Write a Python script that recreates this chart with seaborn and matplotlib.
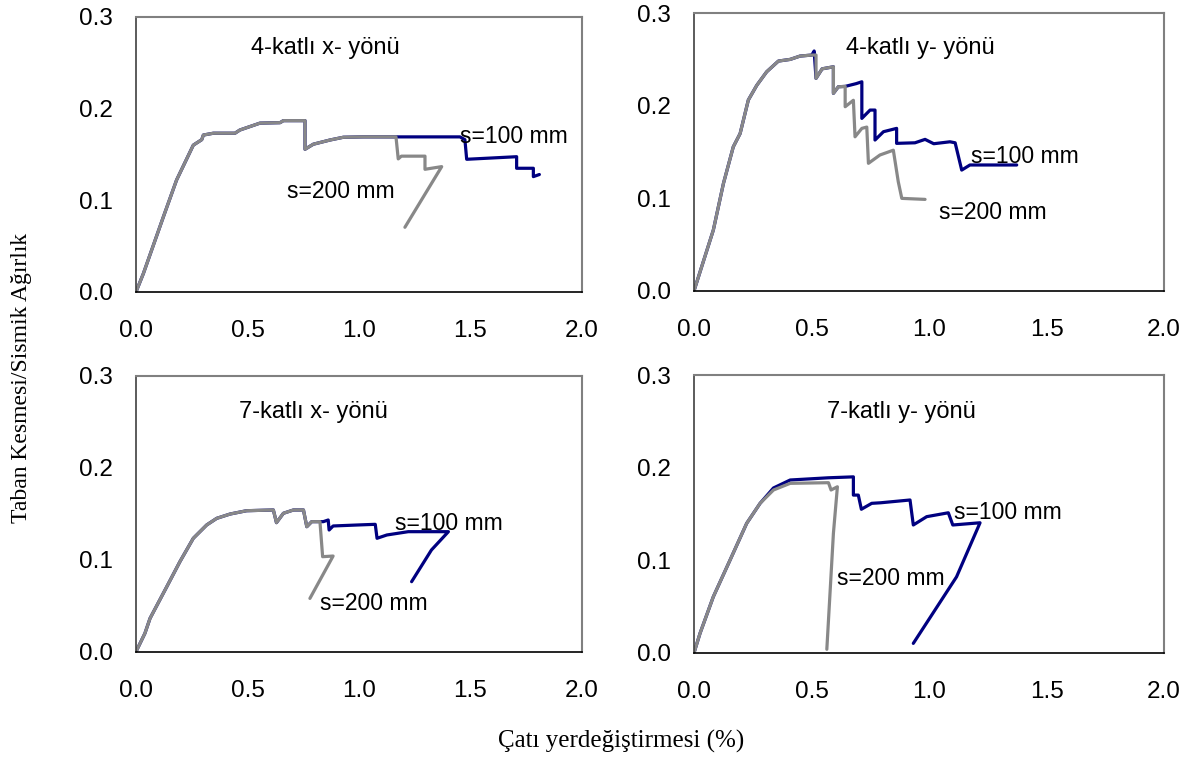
import numpy as np
import pandas as pd
import seaborn as sns
import matplotlib.pyplot as plt

# =========================
# Data
# =========================
# 4-katli x- yonu
tl_x100 = [0, 0.033, 0.123, 0.182, 0.257, 0.295, 0.302, 0.347, 0.444, 0.466, 0.556, 0.646, 0.661, 0.758,
           0.758, 0.795, 0.870, 0.930, 1.019, 1.166, 1.453, 1.475, 1.483, 1.707, 1.707, 1.782, 1.782, 1.809]
tl_y100 = [0, 0.020, 0.082, 0.122, 0.160, 0.166, 0.171, 0.173, 0.173, 0.1765, 0.184, 0.1845, 0.1867, 0.1867,
           0.1555, 0.161, 0.1656, 0.1686, 0.169, 0.169, 0.169, 0.166, 0.1446, 0.1474, 0.1348, 0.1348, 0.1257, 0.128]
tl_x200 = [0, 0.033, 0.123, 0.182, 0.257, 0.295, 0.302, 0.347, 0.444, 0.466, 0.556, 0.646, 0.661, 0.758,
           0.758, 0.795, 0.870, 0.930, 1.019, 1.166, 1.176, 1.190, 1.296, 1.296, 1.371, 1.206]
tl_y200 = [0, 0.020, 0.082, 0.122, 0.160, 0.166, 0.171, 0.173, 0.173, 0.1765, 0.184, 0.1845, 0.1867, 0.1867,
           0.1555, 0.161, 0.1656, 0.1686, 0.169, 0.169, 0.145, 0.148, 0.148, 0.1337, 0.1366, 0.0705]

# 4-katli y- yonu
tr_x100 = [0, 0.082, 0.125, 0.167, 0.196, 0.231, 0.267, 0.309, 0.359, 0.409, 0.451, 0.501, 0.511, 0.519,
           0.545, 0.593, 0.593, 0.614, 0.643, 0.690, 0.714, 0.714, 0.749, 0.770, 0.770, 0.806, 0.862,
           0.862, 0.940, 0.983, 1.020, 1.089, 1.111, 1.139, 1.174, 1.373]
tr_y100 = [0, 0.0656, 0.116, 0.1557, 0.170, 0.2063, 0.2222, 0.2368, 0.2484, 0.2502, 0.2538, 0.2549, 0.2593, 0.2297,
           0.2400, 0.2422, 0.2135, 0.2206, 0.2210, 0.2240, 0.226, 0.1864, 0.1954, 0.1954, 0.163, 0.172, 0.1756,
           0.1594, 0.1600, 0.1637, 0.159, 0.1611, 0.1600, 0.1305, 0.136, 0.136]
tr_x200 = [0, 0.082, 0.125, 0.167, 0.196, 0.231, 0.267, 0.309, 0.359, 0.409, 0.451, 0.501, 0.519, 0.519,
           0.545, 0.593, 0.593, 0.614, 0.643, 0.643, 0.678, 0.685, 0.714, 0.735, 0.742, 0.791, 0.848,
           0.869, 0.884, 0.983]
tr_y200 = [0, 0.0656, 0.116, 0.1557, 0.170, 0.2063, 0.2222, 0.2368, 0.2484, 0.2502, 0.2538, 0.2549, 0.2549, 0.2297,
           0.2400, 0.2422, 0.2135, 0.2206, 0.2210, 0.199, 0.206, 0.1665, 0.1756, 0.1770, 0.1378, 0.1468, 0.152,
           0.1179, 0.0999, 0.0988]

# 7-katli x- yonu
bl_x100 = [0, 0.040, 0.063, 0.138, 0.197, 0.257, 0.317, 0.362, 0.422, 0.496, 0.616, 0.630, 0.661, 0.706,
           0.751, 0.766, 0.788, 0.840, 0.862, 0.866, 0.884, 0.996, 1.073, 1.081, 1.125, 1.221, 1.401,
           1.325, 1.236]
bl_y100 = [0, 0.020, 0.0363, 0.0707, 0.098, 0.1234, 0.1379, 0.1451, 0.1498, 0.1534, 0.1542, 0.1404, 0.1506, 0.1542,
           0.1542, 0.136, 0.1415, 0.1415, 0.1433, 0.1324, 0.1368, 0.1379, 0.1386, 0.1234, 0.127, 0.1306, 0.1306,
           0.1107, 0.0762]
bl_x200 = [0, 0.040, 0.063, 0.138, 0.197, 0.257, 0.317, 0.362, 0.422, 0.496, 0.616, 0.630, 0.661, 0.706,
           0.751, 0.766, 0.788, 0.825, 0.837, 0.884, 0.780]
bl_y200 = [0, 0.020, 0.0363, 0.0707, 0.098, 0.1234, 0.1379, 0.1451, 0.1498, 0.1534, 0.1542, 0.1404, 0.1506, 0.1542,
           0.1542, 0.136, 0.1415, 0.1415, 0.1034, 0.1041, 0.058]

# 7-katli y- yonu
br_x100 = [0, 0.0255, 0.082, 0.153, 0.224, 0.281, 0.338, 0.409, 0.572, 0.678, 0.678, 0.699, 0.712,
           0.756, 0.794, 0.919, 0.933, 0.990, 1.082, 1.101, 1.217, 1.117, 0.933]
br_y100 = [0, 0.021, 0.0605, 0.100, 0.1398, 0.1614, 0.178, 0.1866, 0.189, 0.190, 0.1703, 0.1703, 0.155,
           0.1614, 0.162, 0.165, 0.138, 0.147, 0.1512, 0.138, 0.1404, 0.082, 0.0101]
br_x200 = [0, 0.0255, 0.082, 0.153, 0.224, 0.281, 0.338, 0.409, 0.572, 0.583, 0.610, 0.593, 0.565]
br_y200 = [0, 0.021, 0.0605, 0.100, 0.1398, 0.1614, 0.1758, 0.183, 0.1837, 0.1758, 0.1793, 0.129, 0.0037]

panel_titles = ["4-katlı x- yönü", "4-katlı y- yönü", "7-katlı x- yönü", "7-katlı y- yönü"]
series_names = ["s=100 mm", "s=200 mm"]

x_ticks = [0.0, 0.5, 1.0, 1.5, 2.0]
y_ticks = [0.0, 0.1, 0.2, 0.3]

# =========================
# Layout
# =========================
sns.set_style("white")
plt.rcParams["font.family"] = ["Liberation Sans", "DejaVu Sans"]
plt.rcParams["text.color"] = "black"
plt.rcParams["xtick.labelcolor"] = "black"
plt.rcParams["ytick.labelcolor"] = "black"

fig = plt.figure(figsize=(11.95, 7.72), dpi=100)

boxes = [
    [0.1138, 0.6218, 0.3732, 0.3566],
    [0.5808, 0.6234, 0.3933, 0.3593],
    [0.1138, 0.1558, 0.3732, 0.3572],
    [0.5808, 0.1545, 0.3933, 0.3597],
]

panels = [
    (tl_x100, tl_y100, tl_x200, tl_y200),
    (tr_x100, tr_y100, tr_x200, tr_y200),
    (bl_x100, bl_y100, bl_x200, bl_y200),
    (br_x100, br_y100, br_x200, br_y200),
]

# label positions (data coords): title, s=100, s=200
label_pos = [
    [(0.514, 0.266), (1.453, 0.169), (0.676, 0.109)],
    [(0.646, 0.263), (1.179, 0.145), (1.044, 0.085)],
    [(0.463, 0.261), (1.161, 0.139), (0.825, 0.053)],
    [(0.565, 0.260), (1.105, 0.151), (0.610, 0.080)],
]

palette = {"s=100 mm": "#000080", "s=200 mm": "#888888"}

for i, (x1, y1, x2, y2) in enumerate(panels):
    ax = fig.add_axes(boxes[i])
    df = pd.concat([
        pd.DataFrame({"x": x1, "y": y1, "s": series_names[0], "o": np.arange(len(x1))}),
        pd.DataFrame({"x": x2, "y": y2, "s": series_names[1], "o": np.arange(len(x2))}),
    ])
    sns.lineplot(data=df, x="x", y="y", hue="s", palette=palette, sort=False,
                 estimator=None, units="s", legend=False, linewidth=2.3, ax=ax)

    ax.set_xlim(0, 2.0)
    ax.set_ylim(0, 0.3)
    ax.set_xticks(x_ticks)
    ax.set_yticks(y_ticks)
    ax.set_xticklabels([f"{v:.1f}" for v in x_ticks])
    ax.set_yticklabels([f"{v:.1f}" for v in y_ticks])
    ax.tick_params(axis="both", direction="out", length=5, width=1, labelsize=17.5,
                   color="black")
    ax.tick_params(axis="x", pad=15)
    ax.tick_params(axis="y", pad=11.5)
    ax.set_xlabel("")
    ax.set_ylabel("")

    for side in ["top", "right"]:
        ax.spines[side].set_color("#808080")
        ax.spines[side].set_linewidth(1.5)
    ax.spines["left"].set_color("#404040")
    ax.spines["bottom"].set_color("black")
    ax.spines["left"].set_linewidth(1.2)
    ax.spines["bottom"].set_linewidth(1.2)

    (tx, ty), (ax1, ay1), (ax2, ay2) = label_pos[i]
    ax.text(tx, ty, panel_titles[i], fontsize=17, va="center", ha="left")
    ax.text(ax1, ay1, series_names[0], fontsize=16.5, va="center", ha="left")
    ax.text(ax2, ay2, series_names[1], fontsize=16.5, va="center", ha="left")

fig.text(0.520, 0.039, "Çatı yerdeğiştirmesi (%)", fontsize=18, ha="center", va="center",
         family=["Liberation Serif", "DejaVu Serif"])
fig.text(0.018, 0.510, "Taban Kesmesi/Sismik Ağırlık", fontsize=17, ha="center", va="center",
         rotation=90, family=["Liberation Serif", "DejaVu Serif"])

plt.savefig("out.png", dpi=100)
